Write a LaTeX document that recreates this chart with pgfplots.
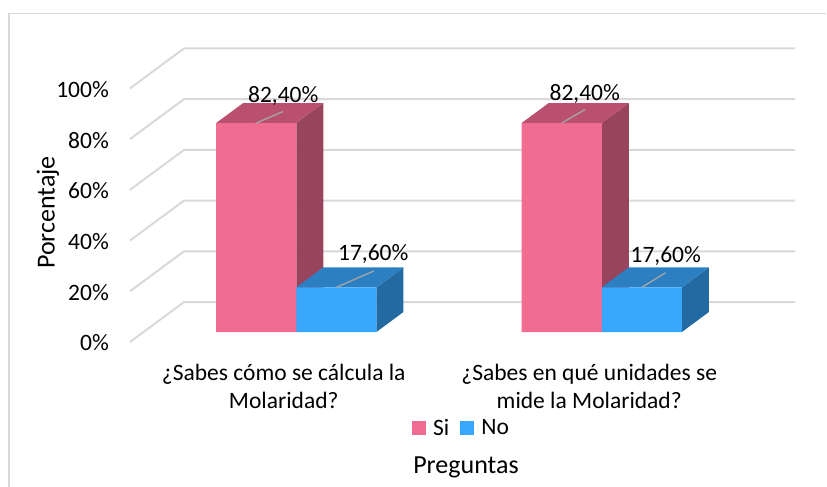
\documentclass[border=0pt]{standalone}
\usepackage{pgfplots}
\pgfplotsset{compat=1.18}
\usepackage{pgfplotstable}
\usepackage{fontspec}
\setmainfont{Carlito}

\definecolor{sifront}{RGB}{241,108,145}
\definecolor{sitop}{RGB}{185,80,112}
\definecolor{siside}{RGB}{152,68,93}
\definecolor{nofront}{RGB}{56,168,255}
\definecolor{notop}{RGB}{44,127,192}
\definecolor{noside}{RGB}{35,106,163}
\definecolor{gridc}{RGB}{217,217,217}
\definecolor{leader}{RGB}{166,166,166}

% group, value, label offsets (bp, from group centre)
\pgfplotstableread{
x y lx ly
0 82.4 -13 27
1 82.4 -17 29
}\si
\pgfplotstableread{
x y lx ly
0 17.6 77 33
1 17.6 64 31
}\no

\begin{document}
\begin{tikzpicture}
\draw[gridc, line width=1.5bp] (9bp,-487bp) -- (9bp,-13.5bp) -- (826bp,-13.5bp);
\begin{axis}[
    at={(143.5bp,-332bp)}, anchor=south west,
    scale only axis, width=611bp, height=253.6bp,
    xmin=-0.5, xmax=1.5, ymin=0, ymax=100,
    enlargelimits=false, clip=false,
    axis line style={draw=none}, tick style={draw=none},
    major tick length=0pt,
    /pgf/number format/assume math mode=true,
    ytick={0,20,40,60,80,100},
    yticklabel={\pgfmathprintnumber{\tick}\%},
    yticklabel style={anchor=east, inner sep=0pt, xshift=-34.5bp, yshift=-11bp},
    xtick={0,1},
    xticklabels={{¿Sabes cómo se cálcula la\\Molaridad?},{¿Sabes en qué unidades se\\mide la Molaridad?}},
    xticklabel style={align=center, anchor=north, inner sep=0pt, xshift=-12.5bp, yshift=-32bp},
    tick label style={font=\fontsize{23.5bp}{28bp}\selectfont},
    xlabel={Preguntas},
    xlabel style={at={(axis description cs:0.5278,-0.532)}, anchor=center, font=\fontsize{26bp}{30bp}\selectfont},
    ylabel={Porcentaje},
    ylabel style={at={(axis description cs:-0.1563,0.471)}, anchor=center, font=\fontsize{26bp}{30bp}\selectfont},
    legend columns=2,
    legend style={at={(axis description cs:0.4394,-0.3785)}, anchor=west, draw=none, fill=none,
        inner sep=0pt, font=\fontsize{23.5bp}{28bp}\selectfont,
        /tikz/every even column/.append style={column sep=9bp}},
    ]
% grid: left wall + back wall
\draw[gridc, line width=2bp] (axis cs:-0.54426,-3.943) -- (axis cs:-0.36721,11.83) -- (axis cs:1.63279,11.83);
\draw[gridc, line width=2bp] (axis cs:-0.54426,16.057) -- (axis cs:-0.36721,31.83) -- (axis cs:1.63279,31.83);
\draw[gridc, line width=2bp] (axis cs:-0.54426,36.057) -- (axis cs:-0.36721,51.83) -- (axis cs:1.63279,51.83);
\draw[gridc, line width=2bp] (axis cs:-0.54426,56.057) -- (axis cs:-0.36721,71.83) -- (axis cs:1.63279,71.83);
\draw[gridc, line width=2bp] (axis cs:-0.54426,76.057) -- (axis cs:-0.36721,91.83) -- (axis cs:1.63279,91.83);
\draw[gridc, line width=2bp] (axis cs:-0.54426,96.057) -- (axis cs:-0.36721,111.83) -- (axis cs:1.63279,111.83);

% group 1: Si side/top
\addplot[fill=siside, draw=none, forget plot] coordinates {(0,0) (0,82.4) (0.0885,90.287) (0.0885,7.887)} -- cycle;
\addplot[fill=sitop, draw=none, forget plot] coordinates {(-0.2623,82.4) (0,82.4) (0.0885,90.287) (-0.1738,90.287)} -- cycle;
% group 2: Si side/top
\addplot[fill=siside, draw=none, forget plot] coordinates {(1,0) (1,82.4) (1.0885,90.287) (1.0885,7.887)} -- cycle;
\addplot[fill=sitop, draw=none, forget plot] coordinates {(0.7377,82.4) (1,82.4) (1.0885,90.287) (0.8262,90.287)} -- cycle;

% Si front faces
\addplot[ybar, bar width=0.2623, bar shift=-0.13115, fill=sifront, draw=none,
    legend image code/.code={\fill[sifront] (0bp,-7bp) rectangle (14bp,7bp); \path (19bp,0bp);},
    visualization depends on={\thisrow{lx} \as \lx},
    visualization depends on={\thisrow{ly} \as \ly},
    nodes near coords={\pgfmathprintnumber[fixed,fixed zerofill,precision=2,use comma]{\pgfplotspointmeta}\%},
    every node near coord/.append style={anchor=center, xshift=\lx bp, yshift=\ly bp, text=black,
        font=\fontsize{23.5bp}{28bp}\selectfont}]
    table[x=x, y=y] {\si};
\addlegendentry{Si}

% No side/top
\addplot[fill=noside, draw=none, forget plot] coordinates {(0.2623,0) (0.2623,17.6) (0.3508,25.487) (0.3508,7.887)} -- cycle;
\addplot[fill=notop, draw=none, forget plot] coordinates {(0,17.6) (0.2623,17.6) (0.3508,25.487) (0.0885,25.487)} -- cycle;
\addplot[fill=noside, draw=none, forget plot] coordinates {(1.2623,0) (1.2623,17.6) (1.3508,25.487) (1.3508,7.887)} -- cycle;
\addplot[fill=notop, draw=none, forget plot] coordinates {(1,17.6) (1.2623,17.6) (1.3508,25.487) (1.0885,25.487)} -- cycle;

% No front faces
\addplot[ybar, bar width=0.2623, bar shift=0.13115, fill=nofront, draw=none,
    legend image code/.code={\fill[nofront] (0bp,-7bp) rectangle (14bp,7bp); \path (19bp,0bp);},
    visualization depends on={\thisrow{lx} \as \lx},
    visualization depends on={\thisrow{ly} \as \ly},
    nodes near coords={\pgfmathprintnumber[fixed,fixed zerofill,precision=2,use comma]{\pgfplotspointmeta}\%},
    every node near coord/.append style={anchor=center, xshift=\lx bp, yshift=\ly bp, text=black,
        font=\fontsize{23.5bp}{28bp}\selectfont}]
    table[x=x, y=y] {\no};
\addlegendentry{No}

% leader lines
\draw[leader, line width=1.3bp] (axis cs:-0.13115,82.4) -- (axis cs:-0.04265,86.97);
\draw[leader, line width=1.3bp] (axis cs:0.86885,82.4) -- (axis cs:0.94555,87.76);
\draw[leader, line width=1.3bp] (axis cs:0.13115,17.6) -- (axis cs:0.25345,24.03);
\draw[leader, line width=1.3bp] (axis cs:1.13115,17.6) -- (axis cs:1.20885,23.36);
\end{axis}
\pgfresetboundingbox
\path[use as bounding box] (0,0) rectangle (827bp,-487bp);
\end{tikzpicture}
\end{document}
